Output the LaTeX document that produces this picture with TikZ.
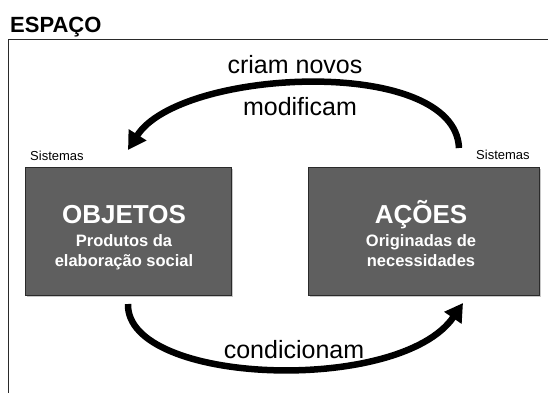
\documentclass[tikz,border=0pt]{standalone}
\usepackage{fontspec}
\setmainfont{Liberation Sans}
\usetikzlibrary{arrows.meta}
\definecolor{boxgray}{HTML}{5F5F5F}
\definecolor{boxedge}{HTML}{2A2A2A}
\definecolor{shadowgray}{HTML}{C8C8C8}
\tikzset{
  framebox/.style={draw=boxedge, line width=1pt},
  conceptbox/.style={fill=boxgray, draw=boxedge, line width=1pt},
  shadowbox/.style={fill=shadowgray},
  bigarrow/.style={line width=6.5pt, -{Triangle[length=18pt,width=20pt]}},
  bigtxt/.style={font=\fontsize{25}{30}\selectfont, inner sep=0pt, anchor=base},
  smalltxt/.style={font=\fontsize{13}{15}\selectfont, inner sep=0pt, anchor=base west},
  titletxt/.style={font=\bfseries\fontsize{26}{30}\selectfont, text=white, inner sep=0pt, anchor=base},
  subtxt/.style={font=\bfseries\fontsize{16.5}{20}\selectfont, text=white, inner sep=0pt, anchor=base},
}
\begin{document}
\begin{tikzpicture}[x=1pt,y=-1pt]
\useasboundingbox (0,0) rectangle (548,392);
% outer frame
\draw[framebox] (8,400) -- (8,39) -- (560,39);
\node[inner sep=0pt, anchor=base west, font=\bfseries\fontsize{22}{26}\selectfont] (espaco) at (10,32) {ESPAÇO};
% boxes
\fill[shadowbox] (27,169) rectangle (233,297);
\fill[shadowbox] (310,169) rectangle (541,297);
\draw[conceptbox] (25,167) rectangle (231,295);
\draw[conceptbox] (308,167) rectangle (539,295);
\node[titletxt] (obj) at (124,223) {OBJETOS};
\node[subtxt] (obj1) at (124,246) {Produtos da};
\node[subtxt] (obj2) at (124,266) {elaboração social};
\node[titletxt] (aco) at (421,223) {AÇÕES};
\node[subtxt] (aco1) at (421,246) {Originadas de};
\node[subtxt] (aco2) at (421,266) {necessidades};
\node[smalltxt] (sisl) at (30,160) {Sistemas};
\node[smalltxt] (sisr) at (476,159) {Sistemas};
% arrow end points
\coordinate (topstart) at (459,148);
\coordinate (topend) at (128,150);
\coordinate (botstart) at (128,304);
\coordinate (botend) at (463,303);
\draw[bigarrow] (topstart) .. controls (455,55) and (180,68) .. (topend);
\draw[bigarrow] (botstart) .. controls (126,385) and (400,395) .. (botend);
% labels
\node[bigtxt] (criam) at (295,73) {criam novos};
\node[bigtxt] (modif) at (300,115) {modificam};
\node[bigtxt] (cond) at (294,358) {condicionam};
\end{tikzpicture}
\end{document}
